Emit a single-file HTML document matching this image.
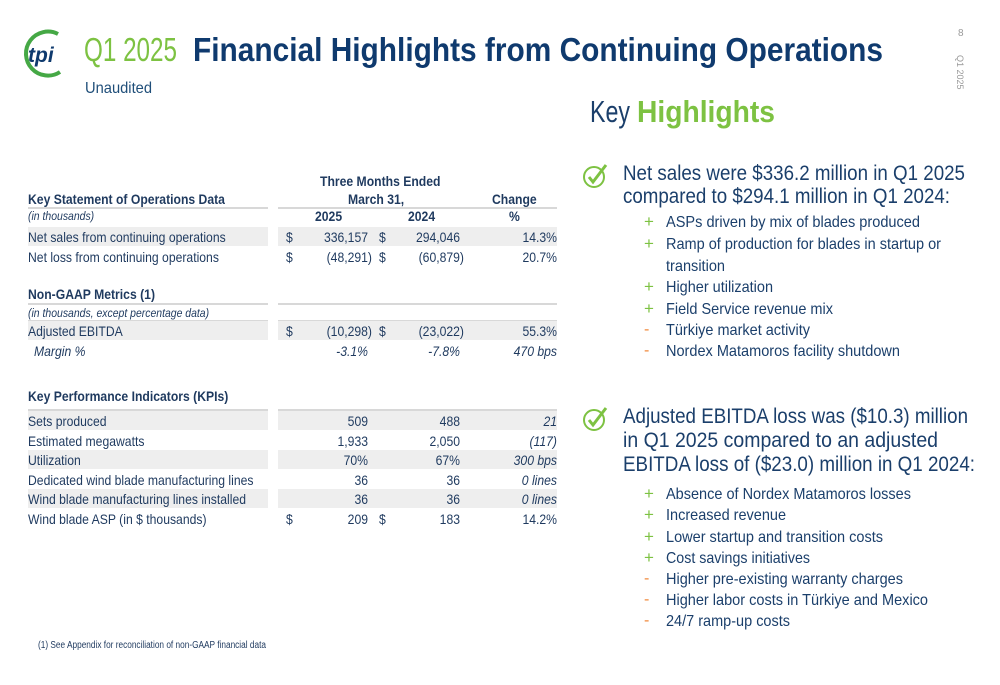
<!DOCTYPE html>
<html><head><meta charset="utf-8">
<style>
html,body{margin:0;padding:0;background:#fff;}
body{width:1000px;height:685px;position:relative;overflow:hidden;font-family:"Liberation Sans",sans-serif;color:#1b3a63;}
.a{position:absolute;white-space:nowrap;transform-origin:0 50%;}
.t{font-size:14px;line-height:18px;color:#1f3a5f;transform:scaleX(.87);}
.r{transform-origin:100% 50%;}
.band{position:absolute;background:#eeeeee;height:19px;}
.hl{position:absolute;height:2px;background:#d8d8d8;}
.b{font-family:"Liberation Sans Narrow","Liberation Sans",sans-serif;color:#1b3f6b;}
.main{font-size:21px;line-height:24px;}
.sub{font-size:16px;line-height:20px;}
.plus{color:#7dc242;font-size:17px;}
.minus{color:#f0883a;font-size:16px;}
</style></head>
<body>
<div id="root">
<svg class="a" style="left:18px;top:26px" width="50" height="56">
 <path d="M40 8 A22 22 0 1 0 42 46" fill="none" stroke="#45a845" stroke-width="4"/>
 <text x="10" y="36" font-family="Liberation Sans" font-weight="bold" font-style="italic" font-size="21" fill="#0f3a6e">tpi</text>
</svg>
<div class="a" style="left:84px;top:30px;font-size:33px;line-height:40px;color:#7dc242;font-family:'Liberation Sans Narrow','Liberation Sans',sans-serif;" data-fitw="93">Q1 2025</div>
<div class="a" style="left:193px;top:30px;font-size:33px;line-height:40px;font-weight:bold;color:#0f3a6e;" data-fitw="690">Financial Highlights from Continuing Operations</div>
<div class="a" style="left:85px;top:79px;font-size:16px;line-height:20px;color:#1f4e79;font-family:'Liberation Sans Narrow','Liberation Sans',sans-serif;" data-fitw="67">Unaudited</div>
<div class="a" style="left:958px;top:28px;font-size:10px;color:#999;">8</div>
<div class="a" style="left:965px;top:55px;font-size:9px;color:#999;transform:rotate(90deg);transform-origin:0 0;">Q1 2025</div>
<div class="a b" style="left:590px;top:94px;font-size:31px;line-height:36px;color:#1b3f6b;" data-fitw="40">Key</div>
<div class="a" style="left:637px;top:94px;font-size:31px;line-height:36px;color:#7dc242;font-weight:bold;" data-fitw="138">Highlights</div>

<div class="a" style="left:38px;top:640px;font-size:10px;color:#1f3a5f;font-family:'Liberation Sans Narrow','Liberation Sans',sans-serif;" data-fitw="228">(1) See Appendix for reconciliation of non-GAAP financial data</div>
</div>
<script>
const root=document.getElementById('root');
function add(html,style,cls,name,fit){const d=document.createElement('div');d.className='a '+(cls||'');d.style.cssText=style;d.innerHTML=html;


if(fit)d.setAttribute('data-fitw',fit);root.appendChild(d);return d;}
function box(cls,l,t,w,name){const d=document.createElement('div');d.className=cls;d.style.left=l+'px';d.style.top=t+'px';d.style.width=w+'px';


root.appendChild(d);}
add('Three Months Ended','left:320px;top:172px;font-weight:bold;','t','header-three-months');
add('March 31,','left:348px;top:190px;font-weight:bold;','t','header-march');
add('Change','left:492px;top:190px;font-weight:bold;','t','header-change');
add('Key Statement of Operations Data','left:28px;top:190px;font-weight:bold;','t','section-operations');
box('hl',28,207,240,'rule');box('hl',278,207,279,'rule');
add('(in thousands)','left:28px;top:207px;font-style:italic;font-size:12px;','t','units-note');
add('2025','left:315px;top:207px;font-weight:bold;','t','header-2025');
add('2024','left:408px;top:207px;font-weight:bold;','t','header-2024');
add('%','left:509px;top:207px;font-weight:bold;','t','header-pct');
add('Non-GAAP Metrics (1)','left:28px;top:285px;font-weight:bold;','t','section-non-gaap');
box('hl',28,303,240,'rule');box('hl',278,303,279,'rule');
add('(in thousands, except percentage data)','left:28px;top:304px;font-style:italic;font-size:12px;','t','units-note-2');
box('hl',28,320,240,'rule');box('hl',278,320,279,'rule');
add('Key Performance Indicators (KPIs)','left:28px;top:387px;font-weight:bold;','t','section-kpis');
box('hl',28,409,240,'rule');box('hl',278,409,279,'rule');

const labels=['Net sales from continuing operations','Net loss from continuing operations','Adjusted EBITDA','Margin %','Sets produced','Estimated megawatts','Utilization','Dedicated wind blade manufacturing lines','Wind blade manufacturing lines installed','Wind blade ASP (in $ thousands)'];
const v2025=['336,157','(48,291)','(10,298)','-3.1%','509','1,933','70%','36','36','209'];
const v2024=['294,046','(60,879)','(23,022)','-7.8%','488','2,050','67%','36','36','183'];
const change=['14.3%','20.7%','55.3%','470 bps','21','(117)','300 bps','0 lines','0 lines','14.2%'];
const dollar=[1,1,1,0,0,0,0,0,0,1];
const rowY=[237,257,331,351,421,441,460,480,499,519];
const banded=[1,0,1,0,1,0,1,0,1,0];
const italicChg=[0,0,0,1,1,1,1,1,1,0];
for(let i=0;i<labels.length;i++){
 const y=rowY[i];
 if(banded[i]){box('band',28,y-10,240,'row-band');box('band',278,y-10,279,'row-band');}
 const it=i==3?'font-style:italic;':'';
 add(labels[i],'left:'+(i==3?34:28)+'px;top:'+(y-9)+'px;'+it,'t','row-label');
 if(dollar[i]){add('$','left:286px;top:'+(y-9)+'px;','t','dollar-sign');add('$','left:379px;top:'+(y-9)+'px;','t','dollar-sign');}
 const s='text-align:right;width:80px;top:'+(y-9)+'px;'+it;
 add(v2025[i],'left:'+(v2025[i][0]=='('?292:288)+'px;'+s,'t r','value-2025');
 add(v2024[i],'left:'+(v2024[i][0]=='('?384:380)+'px;'+s,'t r','value-2024');
 add(change[i],'left:477px;top:'+(y-9)+'px;text-align:right;width:80px;'+(italicChg[i]?'font-style:italic;':''),'t r','value-change');
}
function check(y){const s=document.createElementNS('http://www.w3.org/2000/svg','svg');s.setAttribute('class','a');s.setAttribute('width','28');s.setAttribute('height','28');s.style.left='582px';s.style.top=y+'px';
s.innerHTML='<circle cx="12" cy="15" r="10" fill="none" stroke="#7dc242" stroke-width="2"/><path d="M7 15 L11 20 L24 3" fill="none" stroke="#7dc242" stroke-width="3"/>';


root.appendChild(s);}
check(162);check(405);
const mains=[['Net sales were $336.2 million in Q1 2025',174,342],['compared to $294.1 million in Q1 2024:',197,327],['Adjusted EBITDA loss was ($10.3) million',417,345],['in Q1 2025 compared to an adjusted',441,315],['EBITDA loss of ($23.0) million in Q1 2024:',465,352]];
mains.forEach(m=>add(m[0],'left:623px;top:'+(m[1]-12)+'px;','b main','highlight-text',m[2]));
const subs=[['+','ASPs driven by mix of blades produced',223,254],['+','Ramp of production for blades in startup or',245,275],['','transition',267,59],['+','Higher utilization',288,107],['+','Field Service revenue mix',310,167],['-','Türkiye market activity',331,144],['-','Nordex Matamoros facility shutdown',352,234],
['+','Absence of Nordex Matamoros losses',495,245],['+','Increased revenue',516,120],['+','Lower startup and transition costs',538,217],['+','Cost savings initiatives',559,144],['-','Higher pre-existing warranty charges',580,237],['-','Higher labor costs in Türkiye and Mexico',601,262],['-','24/7 ramp-up costs',622,124]];
subs.forEach(s=>{
 if(s[0])add(s[0],'left:644px;top:'+(s[2]-11)+'px;line-height:20px;',s[0]=='+'?'plus':'minus','bullet-sign');
 add(s[1],'left:666px;top:'+(s[2]-10)+'px;','b sub','sub-bullet',s[3]);
});
document.querySelectorAll('[data-fitw]').forEach(e=>{const w=e.getBoundingClientRect().width;const t=+e.getAttribute('data-fitw');if(w>0)e.style.transform='scaleX('+(t/w)+')';});
</script>
</body></html>
